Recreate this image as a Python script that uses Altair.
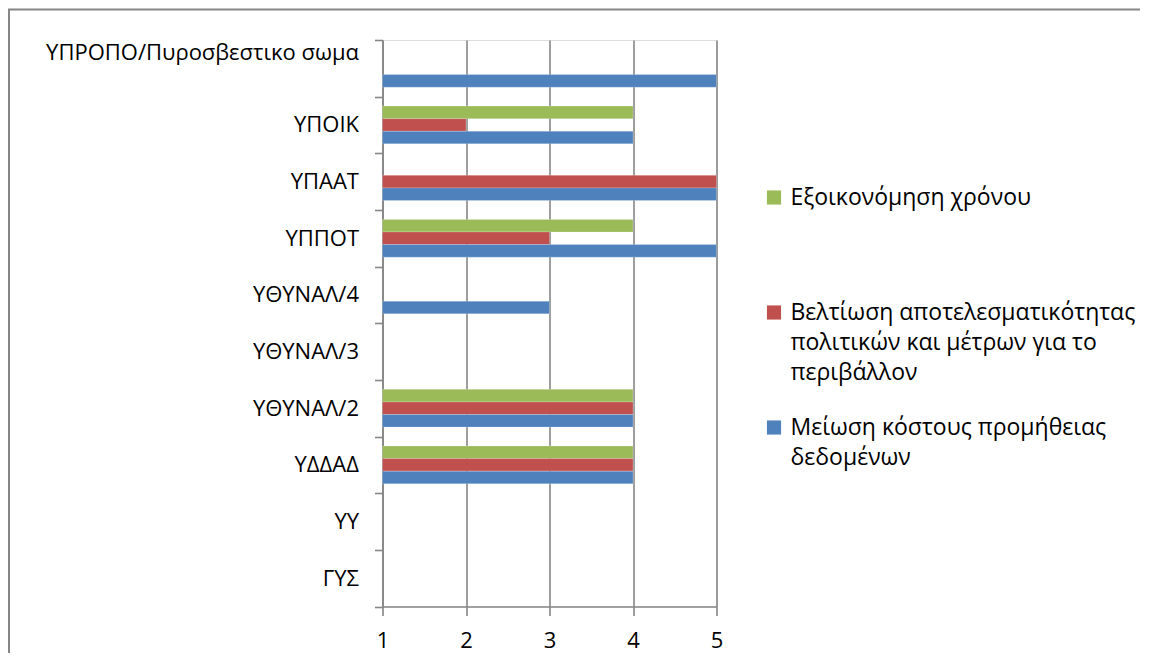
import altair as alt
import pandas as pd

categories = ["ΥΠΡΟΠΟ/Πυροσβεστικο σωμα", "ΥΠΟΙΚ", "ΥΠΑΑΤ", "ΥΠΠΟΤ", "ΥΘΥΝΑΛ/4",
              "ΥΘΥΝΑΛ/3", "ΥΘΥΝΑΛ/2", "ΥΔΔΑΔ", "ΥΥ", "ΓΥΣ"]
series = ["Εξοικονόμηση χρόνου",
          "Βελτίωση αποτελεσματικότητας πολιτικών και μέτρων για το περιβάλλον",
          "Μείωση κόστους προμήθειας δεδομένων"]
legend_lines = [["Εξοικονόμηση χρόνου", "", ""],
                ["Βελτίωση αποτελεσματικότητας", "πολιτικών και μέτρων για το", "περιβάλλον"],
                ["Μείωση κόστους προμήθειας", "δεδομένων"]]
colors = ["#9BBB59", "#C0504D", "#4F81BD"]
green_vals = [None, 4, None, 4, None, None, 4, 4, None, None]
red_vals = [None, 2, 5, 3, None, None, 4, 4, None, None]
blue_vals = [5, 4, 5, 5, 3, None, 4, 4, None, None]

rows = []
for s, vals in zip(series, [green_vals, red_vals, blue_vals]):
    for c, v in zip(categories, vals):
        if v is not None:
            rows.append({"cat": c, "series": s, "value": v})
df = pd.DataFrame(rows)

FONT = "Open Sans"
GRAY = "#868686"
W, H = 334, 566.5

label_expr = " : ".join(
    f"datum.label == '{s}' ? {lines!r}" for s, lines in zip(series, legend_lines)
) + " : datum.label"

bars = alt.Chart(df).mark_bar(stroke="#ffffff", strokeOpacity=0.35, strokeWidth=0.6).encode(
    x=alt.X("value:Q", scale=alt.Scale(domain=[1, 5], nice=False, zero=False),
            axis=alt.Axis(values=[1, 2, 3, 4, 5], format="d", title=None, grid=True,
                          gridColor=GRAY, gridWidth=1.6, domainColor=GRAY, domainWidth=1.6,
                          tickColor=GRAY, tickWidth=1.6, tickSize=9, labelPadding=15,
                          labelFlush=False,
                          labelFont=FONT, labelFontSize=22, labelColor="#000000")),
    x2=alt.datum(1),
    y=alt.Y("cat:N", sort=categories, scale=alt.Scale(domain=categories, paddingInner=0, paddingOuter=0),
            axis=alt.Axis(title=None, tickBand="extent", domainColor=GRAY, domainWidth=1.6,
                          tickColor=GRAY, tickWidth=1.6, tickSize=8, labelPadding=16,
                          labelFont=FONT, labelFontSize=22, labelColor="#000000", labelLimit=400,
                          labelOffset={"condition": {"test": f"datum.value == '{categories[0]}'", "value": -16}, "value": 0})),
    yOffset=alt.YOffset("series:N", sort=series,
                        scale=alt.Scale(domain=series, paddingInner=0, paddingOuter=0.75)),
    color=alt.Color("series:N", sort=series,
                    scale=alt.Scale(domain=series, range=colors),
                    legend=alt.Legend(title=None, orient="none", legendX=380, legendY=146,
                                      symbolType="square", symbolSize=200, symbolStrokeWidth=0,
                                      labelFont=FONT, labelFontSize=23, labelColor="#000000",
                                      labelLimit=600, labelOffset=5, rowPadding=31,
                                      labelExpr=label_expr)),
)

border_df = pd.DataFrame({"a": [0]})
border_left = alt.Chart(border_df).mark_rule(color=GRAY, strokeWidth=2).encode(
    x=alt.value(-373.5), y=alt.value(-30.5), y2=alt.value(H + 300))
border_top = alt.Chart(border_df).mark_rule(color=GRAY, strokeWidth=2).encode(
    y=alt.value(-30.5), x=alt.value(-374.5), x2=alt.value(W + 800))

chart = alt.layer(border_left, border_top, bars).properties(
    width=W, height=H, autosize="none",
    padding={"left": 374.5, "top": 32, "right": 423, "bottom": 46},
).configure_view(strokeWidth=0).configure(
    background="#ffffff",
    style={"guide-label": {"lineHeight": 30}},
)

chart.save("out.html", embed_options={"renderer": "svg", "actions": False})
